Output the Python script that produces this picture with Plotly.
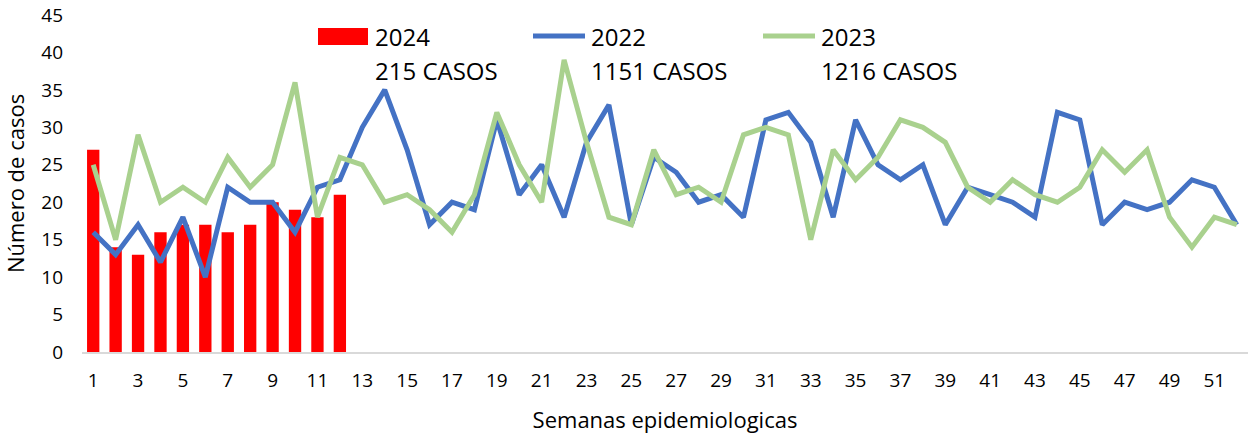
import plotly.graph_objects as go

weeks = list(range(1, 53))
weeks_2024 = list(range(1, 13))
cases_2024 = [27, 14, 13, 16, 17, 17, 16, 17, 20, 19, 18, 21]
cases_2022 = [16, 13, 17, 12, 18, 10, 22, 20, 20, 16,
              22, 23, 30, 35, 27, 17, 20, 19, 31, 21,
              25, 18, 28, 33, 17, 26, 24, 20, 21, 18,
              31, 32, 28, 18, 31, 25, 23, 25, 17, 22,
              21, 20, 18, 32, 31, 17, 20, 19, 20, 23,
              22, 17]
cases_2023 = [25, 15, 29, 20, 22, 20, 26, 22, 25, 36,
              18, 26, 25, 20, 21, 19, 16, 21, 32, 25,
              20, 39, 28, 18, 17, 27, 21, 22, 20, 29,
              30, 29, 15, 27, 23, 26, 31, 30, 28, 22,
              20, 23, 21, 20, 22, 27, 24, 27, 18, 14,
              18, 17]
series_names = ["2024", "2022", "2023"]
totals = ["215 CASOS", "1151 CASOS", "1216 CASOS"]
x_ticks = list(range(1, 52, 2))
y_ticks = list(range(0, 46, 5))

RED, BLUE, GREEN = "#FF0000", "#4472C4", "#A9D18E"
FONT = "Open Sans"

fig = go.Figure()
fig.add_trace(go.Bar(x=weeks_2024, y=cases_2024, name=series_names[0],
                     marker=dict(color=RED, line=dict(width=0)), width=0.55))
fig.add_trace(go.Scatter(x=weeks, y=cases_2022, mode="lines", name=series_names[1],
                         line=dict(color=BLUE, width=5)))
fig.add_trace(go.Scatter(x=weeks, y=cases_2023, mode="lines", name=series_names[2],
                         line=dict(color=GREEN, width=5)))

# plot area geometry (pixels) for the custom legend
W, H = 1256, 436
L, R, T, B = 82, 8, 15, 84
pw, ph = W - L - R, H - T - B

def px(x):
    return (x - L) / pw

def py(y):
    return (H - B - y) / ph

shapes = [
    dict(type="rect", xref="paper", yref="paper", x0=px(318), x1=px(368),
         y0=py(45), y1=py(28), fillcolor=RED, line=dict(width=0)),
    dict(type="line", xref="paper", yref="paper", x0=px(533), x1=px(585),
         y0=py(36), y1=py(36), line=dict(color=BLUE, width=5)),
    dict(type="line", xref="paper", yref="paper", x0=px(763), x1=px(815),
         y0=py(36), y1=py(36), line=dict(color=GREEN, width=5)),
]
annotations = []
for xpos, name, tot in zip([373, 589, 819], series_names, totals):
    annotations.append(dict(xref="paper", yref="paper", x=px(xpos), y=py(36),
                            text=name, showarrow=False, xanchor="left", yanchor="middle",
                            font=dict(family=FONT, size=24, color="#000")))
    annotations.append(dict(xref="paper", yref="paper", x=px(xpos), y=py(71),
                            text=tot, showarrow=False, xanchor="left", yanchor="middle",
                            font=dict(family=FONT, size=24, color="#000")))

fig.update_layout(
    width=W, height=H,
    margin=dict(l=L, r=R, t=T, b=B, autoexpand=False),
    paper_bgcolor="white", plot_bgcolor="white",
    showlegend=False,
    shapes=shapes, annotations=annotations,
    font=dict(family=FONT, color="#000"),
)
fig.update_xaxes(range=[0.5, 52.5], tickvals=x_ticks, ticks="", showgrid=False,
                 showline=True, linecolor="#D9D9D9", linewidth=2, zeroline=False,
                 tickfont=dict(family=FONT, size=19, color="#000"),
                 ticklabelstandoff=10, automargin=False,
                 title=dict(text="Semanas epidemiologicas", standoff=21,
                            font=dict(family=FONT, size=22, color="#000")))
fig.update_yaxes(range=[0, 45], tickvals=y_ticks, ticks="", showgrid=False,
                 showline=False, zeroline=False, automargin=False,
                 tickfont=dict(family=FONT, size=19, color="#000"),
                 ticklabelstandoff=18,
                 title=dict(text="Número de casos", standoff=10,
                            font=dict(family=FONT, size=22, color="#000")))

fig.write_html("out.html", config={"displayModeBar": False},
               post_script="document.body.style.margin='0';document.body.style.overflow='hidden';")
